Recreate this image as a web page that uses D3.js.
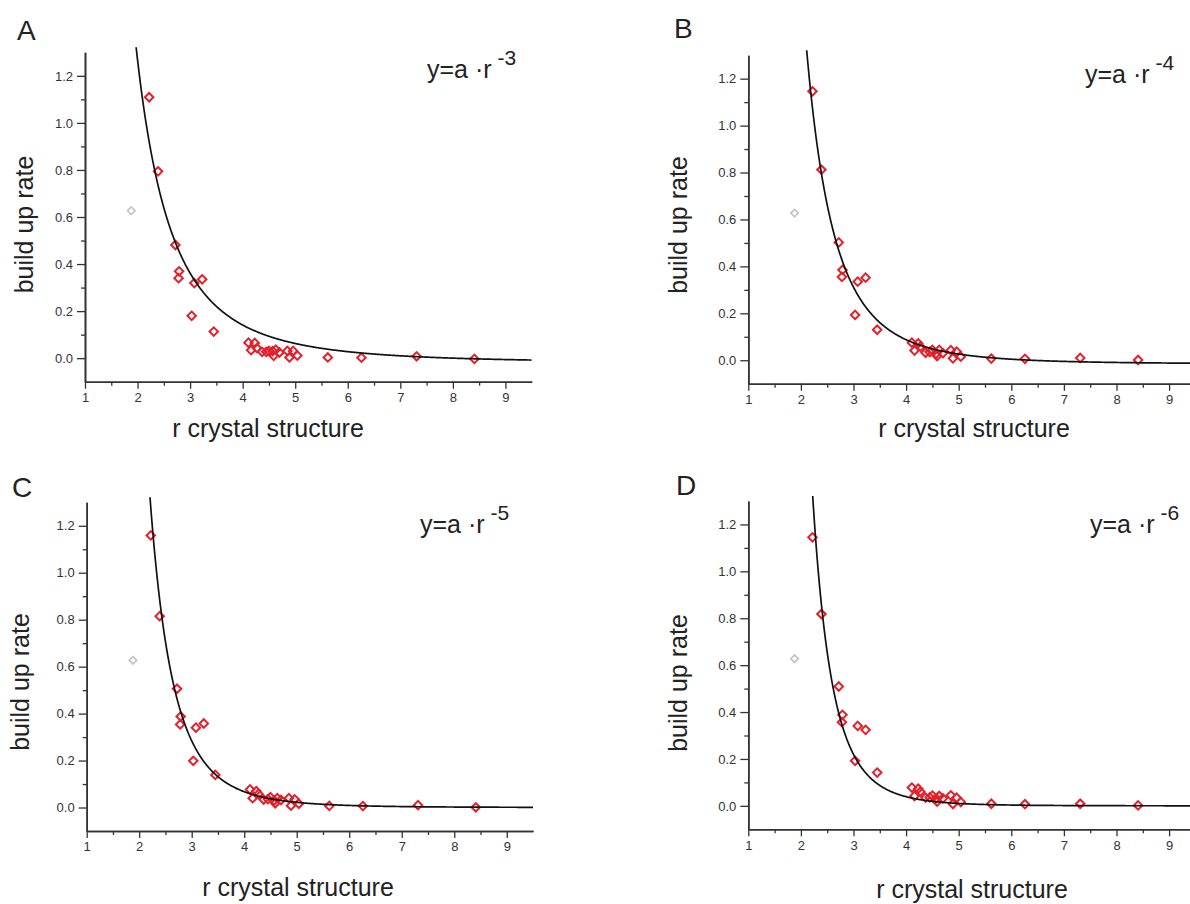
<!DOCTYPE html>
<html>
<head>
<meta charset="UTF-8">
<title>build up rate vs r crystal structure</title>
<script src="https://cdn.jsdelivr.net/npm/d3@7"></script>
<style>
    body { margin: 0; background: #fff; }
    svg text { font-family: "Liberation Sans", Arial, sans-serif; fill: #222; }
    .axis path, .axis line { stroke: #333; }
    .axis path { stroke-width: 1.6px; }
    .axis line { stroke-width: 1.3px; }
    .axis text { font-size: 13px; fill: #333; }
</style>
</head>
<body>
<svg id="chart" width="1190" height="904"></svg>
<script>
var rValues = [2.22, 2.39, 2.72, 2.79, 2.78, 3.08, 3.23, 3.03, 3.45,
               4.11, 4.23, 4.16, 4.27, 4.37, 4.45, 4.50, 4.57, 4.63, 4.59,
               4.70, 4.85, 4.96, 4.89, 5.04, 5.62, 6.26, 7.31, 8.41];
var rateA = [1.109, 0.794, 0.481, 0.369, 0.340, 0.319, 0.335, 0.180, 0.113,
             0.066, 0.065, 0.034, 0.043, 0.027, 0.027, 0.031, 0.030, 0.036, 0.010,
             0.024, 0.031, 0.031, 0.003, 0.011, 0.003, 0.002, 0.008, -0.003];
var rateB = [1.146, 0.812, 0.502, 0.385, 0.355, 0.335, 0.352, 0.193, 0.130,
             0.075, 0.072, 0.041, 0.058, 0.032, 0.035, 0.044, 0.028, 0.044, 0.018,
             0.030, 0.043, 0.037, 0.008, 0.015, 0.007, 0.006, 0.010, 0.001];
var rateC = [1.159, 0.815, 0.506, 0.388, 0.354, 0.340, 0.358, 0.199, 0.139,
             0.077, 0.070, 0.040, 0.058, 0.034, 0.036, 0.044, 0.030, 0.040, 0.018,
             0.032, 0.040, 0.035, 0.008, 0.016, 0.007, 0.006, 0.010, 0.001];
var rateD = [1.145, 0.818, 0.509, 0.388, 0.357, 0.341, 0.324, 0.192, 0.142,
             0.078, 0.073, 0.042, 0.060, 0.035, 0.036, 0.044, 0.032, 0.042, 0.018,
             0.032, 0.045, 0.035, 0.008, 0.016, 0.009, 0.007, 0.009, 0.002];
// excluded point (grey)
var outlierR = [1.88];
var outlierRate = [0.627];

// fits y = a * r^-n + c
var panelLetters = ["A", "B", "C", "D"];
var fitExponent = [3, 4, 5, 6];
var fitScale = [10.3, 26.5, 69, 160];
var fitOffset = [-0.02, -0.016, 0, 0];

var xTicks = [1, 2, 3, 4, 5, 6, 7, 8, 9];
var xMinorTicks = [1.5, 2.5, 3.5, 4.5, 5.5, 6.5, 7.5, 8.5];
var yTicks = [0.0, 0.2, 0.4, 0.6, 0.8, 1.0, 1.2];
var yMinorTicks = [0.1, 0.3, 0.5, 0.7, 0.9, 1.1];
var xDomain = [1, 9.5];
var yDomain = [-0.1, 1.3];

var panelRates = [rateA, rateB, rateC, rateD];

// panel placement on the page
var layout = [
    {x0: 85,    x1: 531.7,  y0: 381.7, y1: 52.3,  letter: [17, 40],  formula: [427, 78],   xlab: [268, 437],   ylab: [24, 224.5]},
    {x0: 748.3, x1: 1195.4, y0: 383.7, y1: 55.2,  letter: [674, 38], formula: [1085, 83],  xlab: [974, 437],   ylab: [678, 225]},
    {x0: 86.7,  x1: 533,    y0: 831,   y1: 502.3, letter: [12, 497], formula: [420, 533],  xlab: [298, 896],   ylab: [20, 682]},
    {x0: 748.3, x1: 1195.4, y0: 829.3, y1: 501,   letter: [676, 495], formula: [1090, 533], xlab: [972, 898],   ylab: [678, 683]}
];

var svg = d3.select("#chart");
var outliers = outlierR.map(function (r, i) { return {r: r, v: outlierRate[i]}; });
var diamond = d3.symbol().type(d3.symbolSquare).size(36);

panelLetters.forEach(function (letter, p) {
    var L = layout[p];
    var rates = panelRates[p];
    var points = rValues.map(function (r, i) { return {r: r, v: rates[i]}; });
    var x = d3.scaleLinear().domain(xDomain).range([L.x0, L.x1]);
    var y = d3.scaleLinear().domain(yDomain).range([L.y0, L.y1]);
    var g = svg.append("g");

    g.append("clipPath").attr("id", "clip" + p)
        .append("rect")
        .attr("x", L.x0).attr("y", L.y1 - 5)
        .attr("width", L.x1 - L.x0).attr("height", L.y0 - L.y1 + 5);

    // minor ticks
    g.append("g").attr("class", "axis")
        .attr("transform", "translate(0," + L.y0 + ")")
        .call(d3.axisBottom(x).tickValues(xMinorTicks).tickSize(4).tickSizeOuter(0).tickFormat(""));
    g.append("g").attr("class", "axis")
        .attr("transform", "translate(" + L.x0 + ",0)")
        .call(d3.axisLeft(y).tickValues(yMinorTicks).tickSize(4).tickSizeOuter(0).tickFormat(""));

    // major ticks
    g.append("g").attr("class", "axis")
        .attr("transform", "translate(0," + L.y0 + ")")
        .call(d3.axisBottom(x).tickValues(xTicks).tickSize(7).tickSizeOuter(0).tickPadding(4).tickFormat(d3.format("d")));
    g.append("g").attr("class", "axis")
        .attr("transform", "translate(" + L.x0 + ",0)")
        .call(d3.axisLeft(y).tickValues(yTicks).tickSize(8).tickSizeOuter(0).tickPadding(4).tickFormat(d3.format(".1f")));

    // grey excluded point
    g.selectAll("path.out").data(outliers).enter()
        .append("path").attr("class", "out")
        .attr("d", d3.symbol().type(d3.symbolSquare).size(28))
        .attr("transform", function (d) { return "translate(" + x(d.r) + "," + y(d.v) + ") rotate(45)"; })
        .attr("fill", "none").attr("stroke", "#c4c4c4").attr("stroke-width", 1.7);

    // red points
    g.selectAll("path.pt").data(points).enter()
        .append("path").attr("class", "pt")
        .attr("d", diamond)
        .attr("transform", function (d) { return "translate(" + x(d.r) + "," + y(d.v) + ") rotate(45)"; })
        .attr("fill", "none").attr("stroke", "#e3202b").attr("stroke-width", 2);

    // fitted curve
    var a = fitScale[p], n = fitExponent[p], c = fitOffset[p];
    var curve = d3.range(1.9, 9.5001, 0.01).map(function (r) { return [r, a * Math.pow(r, -n) + c]; });
    g.append("path")
        .datum(curve)
        .attr("clip-path", "url(#clip" + p + ")")
        .attr("fill", "none").attr("stroke", "#111").attr("stroke-width", 1.7)
        .attr("d", d3.line().x(function (d) { return x(d[0]); }).y(function (d) { return y(d[1]); }));

    // formula
    var f = g.append("text")
        .attr("x", L.formula[0]).attr("y", L.formula[1])
        .style("font-size", "25px");
    f.append("tspan").text("y=a \u00b7r");
    f.append("tspan").attr("dx", 6).attr("dy", -13).style("font-size", "21px").text("-" + n);

    // panel letter
    g.append("text")
        .attr("x", L.letter[0]).attr("y", L.letter[1])
        .style("font-size", "28px")
        .text(letter);

    // axis titles
    g.append("text")
        .attr("x", L.xlab[0]).attr("y", L.xlab[1])
        .attr("text-anchor", "middle")
        .style("font-size", "25px")
        .text("r crystal structure");
    g.append("text")
        .attr("transform", "translate(" + L.ylab[0] + "," + L.ylab[1] + ") rotate(-90)")
        .attr("text-anchor", "middle")
        .attr("dy", "0.35em")
        .style("font-size", "25px")
        .text("build up rate");
});
</script>
</body>
</html>
